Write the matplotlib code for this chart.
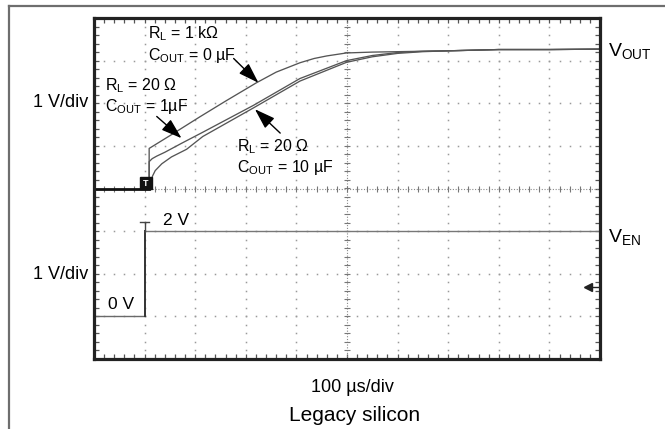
import matplotlib
matplotlib.use("Agg")
import matplotlib.pyplot as plt
import numpy as np
from matplotlib.lines import Line2D

plt.rcParams['font.family'] = ['Liberation Sans', 'DejaVu Sans']
plt.rcParams['mathtext.fontset'] = 'custom'
plt.rcParams['mathtext.rm'] = 'Liberation Sans'

# time in us (100 us/div), trigger at t = 0; VOUT in volts (1 V/div)
t_base = [-100, 9]
v_base = [0, 0]

t_1k = [9, 9, 50, 109, 160, 221, 260, 307, 335, 360, 399, 450, 500, 600, 700, 800, 900]
v_1k = [0, 0.94, 1.24, 1.68, 2.05, 2.48, 2.73, 2.95, 3.05, 3.11, 3.18, 3.20, 3.21, 3.23, 3.26, 3.26, 3.27]

t_1u = [9, 9, 15, 24, 40, 73, 115, 215, 307, 399, 450, 500, 550, 600, 700, 800, 900]
v_1u = [0, 0.63, 0.70, 0.76, 0.85, 1.06, 1.32, 1.95, 2.58, 3.00, 3.12, 3.19, 3.22, 3.23, 3.26, 3.26, 3.27]

t_10u = [9, 12, 16, 21, 34, 53, 83, 115, 215, 307, 399, 450, 500, 550, 600, 700, 800, 900]
v_10u = [0, 0.15, 0.30, 0.42, 0.58, 0.74, 0.92, 1.22, 1.89, 2.52, 2.96, 3.09, 3.17, 3.21, 3.23, 3.26, 3.26, 3.27]

# enable channel, ground 3 div below centre
t_en = [-100, 1, 1, 900]
v_en = [0, 0, 2, 2]
en_offset = -3

W, H = 665, 429
fig = plt.figure(figsize=(W / 100, H / 100), dpi=100)
ax = fig.add_axes([94 / W, 1 - 359 / H, 506 / W, 341 / H])
ax.set_xlim(-100, 900)
ax.set_ylim(-4, 4)


def fx(px):
    return px / W


def fy(py):
    return 1 - py / H


# outer border of the figure
fig.add_artist(Line2D([fx(9), fx(9)], [fy(6), 0], color='#6e6e6e', lw=1.6))
fig.add_artist(Line2D([fx(9), 1], [fy(6), fy(6)], color='#6e6e6e', lw=1.6))

# graticule
for t in range(0, 900, 100):
    if t == 400:
        continue
    yy = np.arange(-4, 4.01, 0.2)
    ax.plot(np.full_like(yy, t), yy, 's', ms=1.1, color='#9a9a9a', mew=0)
for v in range(-3, 4):
    if v == 0:
        continue
    xx = np.arange(-100, 901, 20)
    ax.plot(xx, np.full_like(xx, v, dtype=float), 's', ms=1.1, color='#9a9a9a', mew=0)

ax.axvline(400, color='#8a8a8a', lw=0.8, ls=(0, (1, 1.5)))
ax.axhline(0, color='#8a8a8a', lw=0.8, ls=(0, (1, 1.5)))
cy = np.arange(-4, 4.01, 0.2)
ax.plot(np.full_like(cy, 400), cy, '_', ms=5, color='#777777', mew=0.8)
cx = np.arange(-100, 901, 20)
ax.plot(cx, np.zeros_like(cx, dtype=float), '|', ms=5, color='#777777', mew=0.8)

ax.set_xticks(np.arange(-100, 901, 100))
ax.set_xticks(np.arange(-100, 901, 20), minor=True)
ax.set_yticks(np.arange(-4, 5, 1))
ax.set_yticks(np.arange(-4, 4.01, 0.2), minor=True)
ax.tick_params(which='both', direction='in', top=True, right=True,
               labelleft=False, labelbottom=False, length=3.5, width=0.9, color='#555555')
for s in ax.spines.values():
    s.set_linewidth(2.3)
    s.set_color('#222222')

# traces
ax.plot(t_1k, v_1k, color='#555555', lw=0.95)
ax.plot(t_1u, v_1u, color='#555555', lw=0.95)
ax.plot(t_10u, v_10u, color='#555555', lw=0.95)
ax.plot(t_base, v_base, color='#111111', lw=2.0)
ax.plot(t_en[:2], np.array(v_en[:2]) + en_offset, color='#6a6a6a', lw=1.0)
ax.plot(t_en[1:3], np.array(v_en[1:3]) + en_offset, color='#333333', lw=1.4)
ax.plot(t_en[2:], np.array(v_en[2:]) + en_offset, color='#777777', lw=1.0)
ax.plot([-9, 9], [-0.78, -0.78], color='#444444', lw=1.0)
ax.plot([1, 1], [-0.78, -1.0], color='#444444', lw=1.0)

# trigger marker
ax.plot(2, 0.13, 's', ms=8.5, color='#111111')
ax.text(2, 0.12, 'T', color='white', fontsize=6.5, fontweight='bold', ha='center', va='center')

# channel marker at right edge
ax.plot(877, -2.32, '<', ms=6, color='#222222')
ax.plot([877, 900], [-2.32, -2.32], color='#222222', lw=1.0)

# annotation arrows
arrow = dict(arrowstyle='-|>,head_length=0.9,head_width=0.3', color='black', lw=1.0,
             mutation_scale=14, shrinkA=0, shrinkB=0)
ax.annotate('', xy=(225, 2.48), xytext=(176, 3.05), arrowprops=arrow)
ax.annotate('', xy=(73, 1.18), xytext=(24, 1.69), arrowprops=arrow)
ax.annotate('', xy=(218, 1.86), xytext=(268, 1.30), arrowprops=arrow)

fs = 11.5
fig.text(fx(148), fy(38), r'R$_\mathregular{L}$ = 1 kΩ', fontsize=fs, va='baseline')
fig.text(fx(148), fy(60), r'C$_\mathregular{OUT}$ = 0 µF', fontsize=fs, va='baseline')
fig.text(fx(105), fy(90), r'R$_\mathregular{L}$ = 20 Ω', fontsize=fs, va='baseline')
fig.text(fx(105), fy(111), r'C$_\mathregular{OUT}$ = 1µF', fontsize=fs, va='baseline')
fig.text(fx(237), fy(151), r'R$_\mathregular{L}$ = 20 Ω', fontsize=fs, va='baseline')
fig.text(fx(237), fy(172), r'C$_\mathregular{OUT}$ = 10 µF', fontsize=fs, va='baseline')
fig.text(fx(163), fy(225), '2 V', fontsize=12.5, va='baseline')
fig.text(fx(108), fy(309), '0 V', fontsize=12.5, va='baseline')

fig.text(fx(88), fy(107), '1 V/div', fontsize=13, ha='right', va='baseline')
fig.text(fx(88), fy(279), '1 V/div', fontsize=13, ha='right', va='baseline')
fig.text(fx(608), fy(57), r'V$_\mathregular{OUT}$', fontsize=14, va='baseline')
fig.text(fx(608), fy(243), r'V$_\mathregular{EN}$', fontsize=14, va='baseline')

fig.text(fx(352), fy(392), '100 µs/div', fontsize=13, ha='center', va='baseline')
fig.text(fx(355), fy(421), 'Legacy silicon', fontsize=15, ha='center', va='baseline')

fig.savefig('out.png', dpi=100)
